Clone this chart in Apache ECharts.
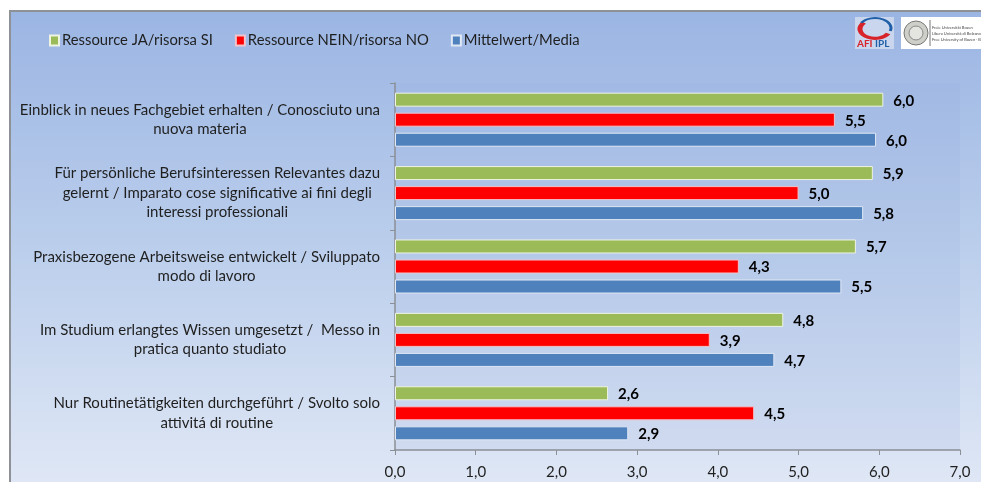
<!DOCTYPE html>
<html><head><meta charset="utf-8">
<style>html,body{margin:0;padding:0;background:#fff;overflow:hidden}#c{width:981px;height:482px}</style>
<script src="https://cdn.jsdelivr.net/npm/echarts@6/dist/echarts.min.js"></script></head>
<body><div id="c"></div>
<script>
const categories = [
  "Einblick in neues Fachgebiet erhalten / Conosciuto una\nnuova materia",
  "Für persönliche Berufsinteressen Relevantes dazu\ngelernt / Imparato cose significative ai fini degli\ninteressi professionali",
  "Praxisbezogene Arbeitsweise entwickelt / Sviluppato\nmodo di lavoro",
  "Im Studium erlangtes Wissen umgesetzt /  Messo in\npratica quanto studiato",
  "Nur Routinetätigkeiten durchgeführt / Svolto solo\nattivitá di routine"
];
const seriesNames = ["Ressource JA/risorsa SI", "Ressource NEIN/risorsa NO", "Mittelwert/Media"];
const jaValues = [6.05, 5.92, 5.71, 4.81, 2.64];
const neinValues = [5.45, 5.0, 4.26, 3.9, 4.45];
const meanValues = [5.96, 5.8, 5.53, 4.7, 2.89];
const jaLabels = ["6,0", "5,9", "5,7", "4,8", "2,6"];
const neinLabels = ["5,5", "5,0", "4,3", "3,9", "4,5"];
const meanLabels = ["6,0", "5,8", "5,5", "4,7", "2,9"];
const FONT = "Lato";

const chart = echarts.init(document.getElementById('c'), null, {renderer: 'canvas'});
function bar(name, data, labels, color, border) {
  return {
    name, type: 'bar', data, barWidth: 14, barGap: '43%',
    itemStyle: {color, borderColor: border, borderWidth: 1},
    label: {show: true, position: 'right', distance: 10, offset: [0, 1], color: '#000', fontFamily: FONT,
      fontWeight: 'bold', fontSize: 15, formatter: p => labels[p.dataIndex]}
  };
}
chart.setOption({
  animation: false,
  backgroundColor: '#fff',
  graphic: {elements: [
    {type: 'rect', z: -10, silent: true, shape: {x: 10, y: 11, width: 990, height: 490},
      style: {fill: new echarts.graphic.LinearGradient(0, 0, 0, 1, [
        {offset: 0, color: '#9bb5e3'}, {offset: 0.5, color: '#bccfec'}, {offset: 1, color: '#e2e9f6'}]),
        stroke: '#8e9196', lineWidth: 2}},
    {type: 'rect', z: 5, silent: true, shape: {x: 855, y: 17, width: 39, height: 32}, style: {fill: '#c9d6ee'}},
    {type: 'arc', z: 6, silent: true, originX: 875, originY: 29, scaleY: 0.62,
      shape: {cx: 875, cy: 29, r: 15, startAngle: 0.5, endAngle: 3.9},
      style: {fill: 'none', stroke: '#d8232a', lineWidth: 5}},
    {type: 'arc', z: 7, silent: true, originX: 875, originY: 28, scaleY: 0.62,
      shape: {cx: 875, cy: 28, r: 16, startAngle: -2.6, endAngle: 0.3},
      style: {fill: 'none', stroke: '#1f5fa8', lineWidth: 3}},
    {type: 'text', z: 7, silent: true, style: {x: 857, y: 39, text: 'AFI', fill: '#d8232a', fontFamily: FONT, fontWeight: 'bold', fontSize: 10}},
    {type: 'text', z: 7, silent: true, style: {x: 875, y: 39, text: 'IPL', fill: '#1f5fa8', fontFamily: FONT, fontWeight: 'bold', fontSize: 10}},
    {type: 'rect', z: 5, silent: true, shape: {x: 901, y: 17, width: 80, height: 32}, style: {fill: '#fff'}},
    {type: 'circle', z: 6, silent: true, shape: {cx: 916, cy: 33, r: 12}, style: {fill: '#cfcfca', stroke: '#777', lineWidth: 1}},
    {type: 'circle', z: 6, silent: true, shape: {cx: 916, cy: 33, r: 7}, style: {fill: '#e4e4e0', stroke: '#888', lineWidth: 1}},
    {type: 'line', z: 6, silent: true, shape: {x1: 930, y1: 20, x2: 930, y2: 46}, style: {stroke: '#777', lineWidth: 1}},
    {type: 'text', z: 6, silent: true, style: {x: 932, y: 26, text: 'Freie Universität Bozen', fill: '#444', fontFamily: FONT, fontSize: 4}},
    {type: 'text', z: 6, silent: true, style: {x: 932, y: 32, text: 'Libera Università di Bolzano', fill: '#444', fontFamily: FONT, fontSize: 4}},
    {type: 'text', z: 6, silent: true, style: {x: 932, y: 38, text: 'Free University of Bozen · Bolzano', fill: '#444', fontFamily: FONT, fontSize: 4}}
  ]},
  legend: {
    left: 44, top: 28, itemWidth: 9, itemHeight: 10, itemGap: 22, icon: 'rect',
    data: seriesNames,
    textStyle: {color: '#1f1f1f', fontFamily: FONT, fontSize: 14.8, padding: [0, 0, 0, -2]}
  },
  grid: {left: 395, right: 21, top: 83, bottom: 32, show: true, borderWidth: 0,
    backgroundColor: 'rgba(140,165,220,0.13)'},
  xAxis: {
    type: 'value', min: 0, max: 7, interval: 1,
    axisLine: {show: true, lineStyle: {color: '#8b8f96', width: 1.5}},
    axisTick: {show: true, length: 5, lineStyle: {color: '#8b8f96'}},
    splitLine: {show: false},
    axisLabel: {color: '#1f1f1f', fontFamily: FONT, fontSize: 15, margin: 15,
      formatter: v => v.toFixed(1).replace('.', ',')}
  },
  yAxis: {
    type: 'category', inverse: true, data: categories,
    axisLine: {show: true, lineStyle: {color: '#8b8f96', width: 1.5}},
    axisTick: {show: true, length: 5, alignWithLabel: false, lineStyle: {color: '#8b8f96'}},
    axisLabel: {
      color: '#1f1f1f', fontFamily: FONT, fontSize: 15, lineHeight: 19.5, margin: 15, interval: 0,
      formatter: v => v.split('\n').map(l => '{c|' + l + '}').join('\n'),
      rich: {c: {align: 'center', color: '#1f1f1f', fontFamily: FONT, fontSize: 15, lineHeight: 19.5}}
    }
  },
  series: [
    bar(seriesNames[0], jaValues, jaLabels, '#9bbb59', '#eef3e2'),
    bar(seriesNames[1], neinValues, neinLabels, '#ff0000', '#f0c4cc'),
    bar(seriesNames[2], meanValues, meanLabels, '#4f81bd', '#dfe8f4')
  ]
});
</script></body></html>
